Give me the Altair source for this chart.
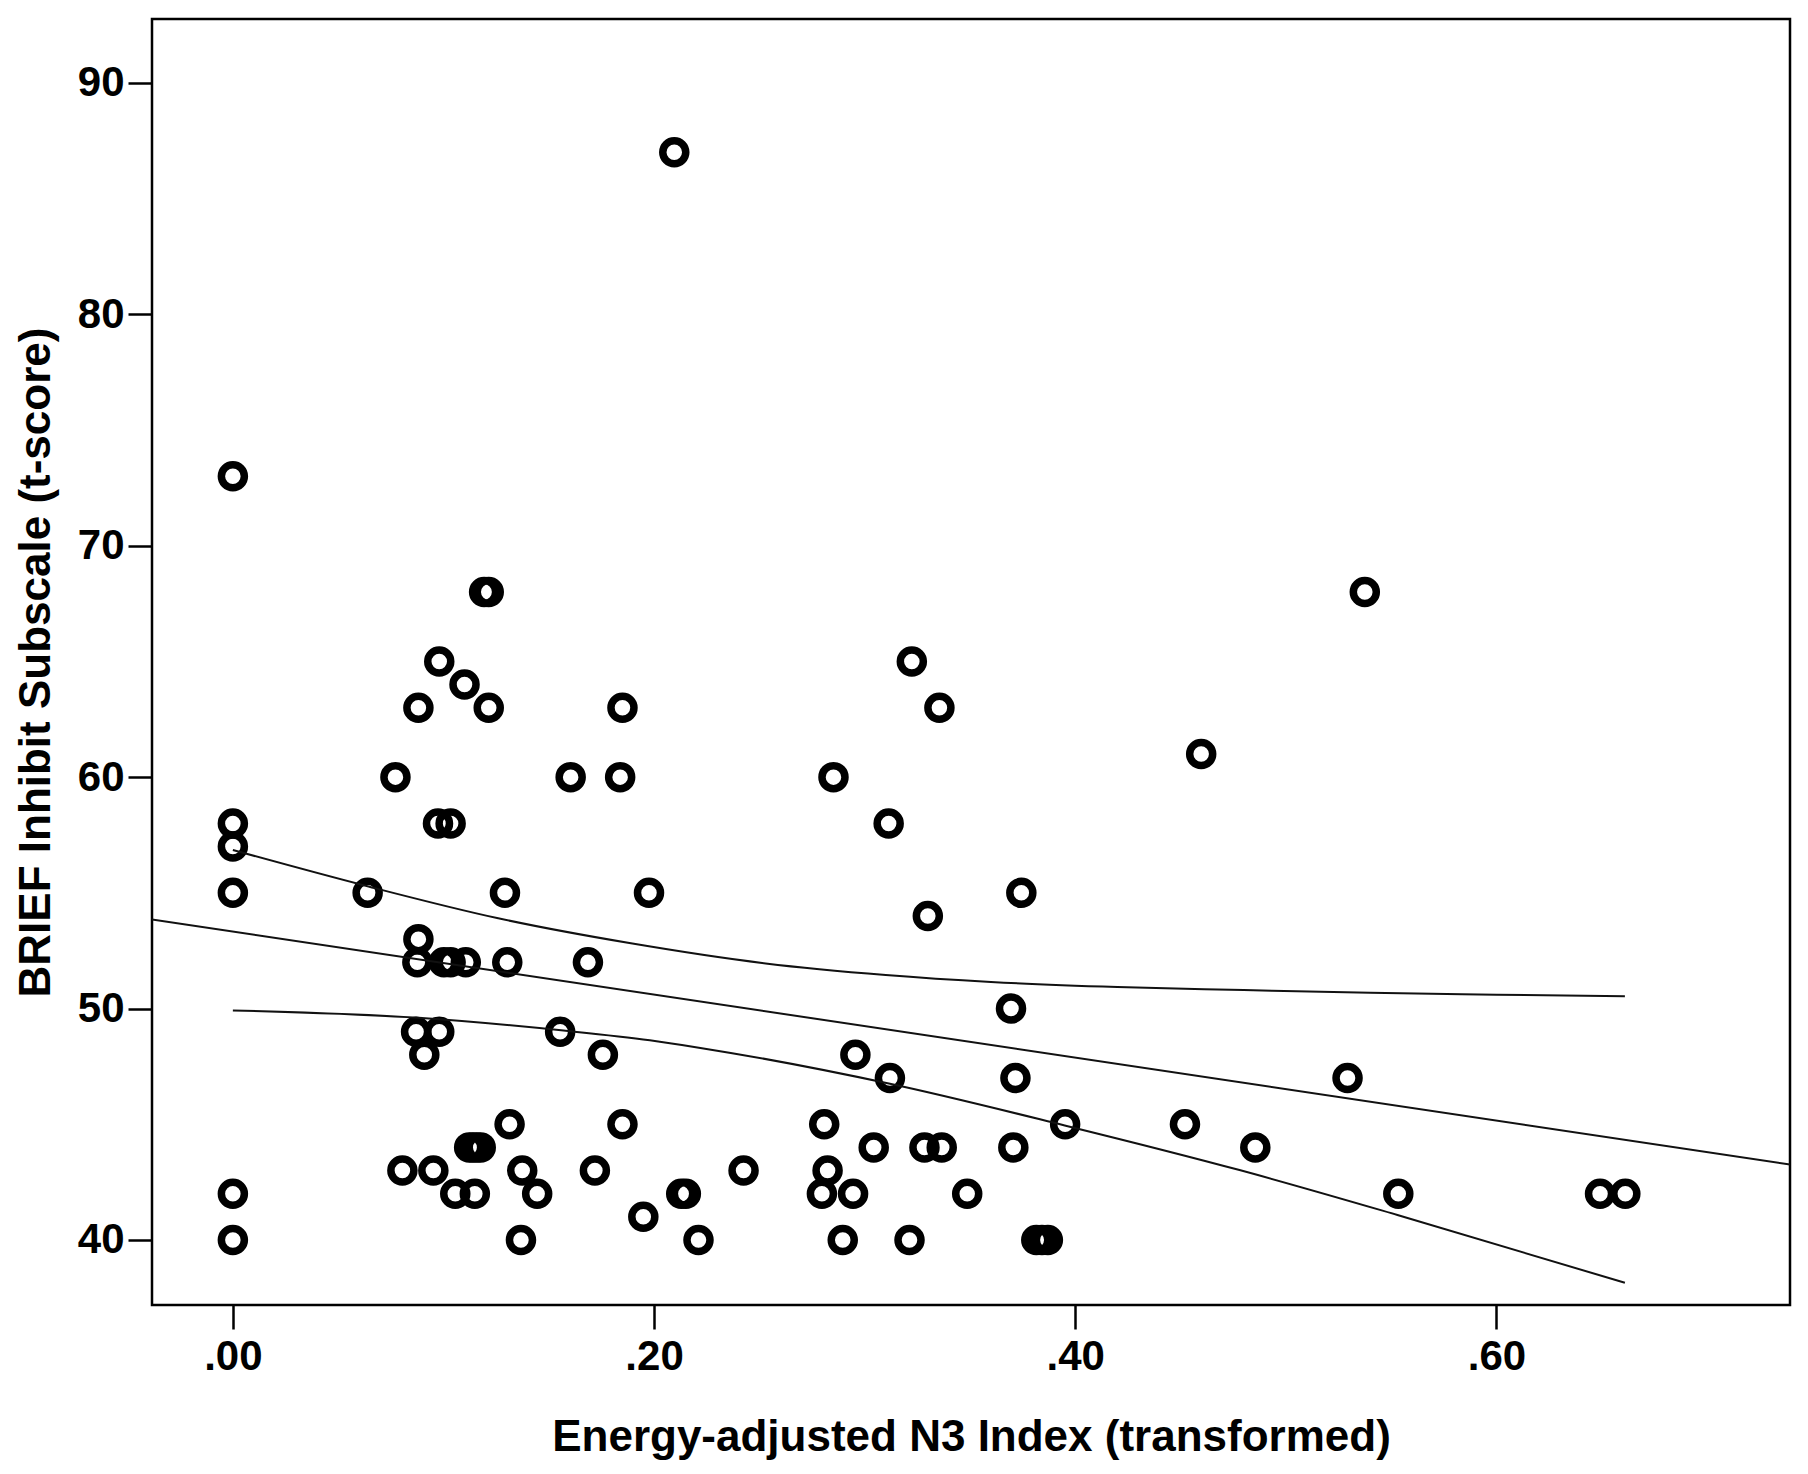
import altair as alt
import pandas as pd

# BRIEF Inhibit t-scores (rows) and the N3 index values of the points on each row
scores = [87, 73, 68, 65, 64, 63, 61, 60, 58, 57, 55, 54, 53, 52, 50, 49, 48, 47, 45, 44, 43, 42, 41, 40]
n3_by_score = [
    [0.2096],
    [0.0],
    [0.1193, 0.1215, 0.5375],
    [0.0980, 0.3224],
    [0.1100],
    [0.0881, 0.1215, 0.1850, 0.3355],
    [0.4598],
    [0.0772, 0.1604, 0.1839, 0.2852],
    [0.0, 0.0974, 0.1034, 0.3114],
    [0.0],
    [0.0, 0.0640, 0.1292, 0.1976, 0.3744],
    [0.3300],
    [0.0881],
    [0.0876, 0.1002, 0.1034, 0.1106, 0.1303, 0.1686],
    [0.3695],
    [0.0870, 0.0980, 0.1554],
    [0.0909, 0.1757, 0.2956],
    [0.3120, 0.3716, 0.5293],
    [0.1314, 0.1850, 0.2808, 0.3952, 0.4521],
    [0.1122, 0.1140, 0.1158, 0.1177, 0.3043, 0.3284, 0.3366, 0.3706, 0.4855],
    [0.0805, 0.0952, 0.1374, 0.1719, 0.2425, 0.2824],
    [0.0, 0.1056, 0.1149, 0.1445, 0.2129, 0.2151, 0.2797, 0.2945, 0.3487, 0.5534, 0.6492, 0.6612],
    [0.1949],
    [0.0, 0.1368, 0.2211, 0.2896, 0.3213, 0.3815, 0.3842, 0.3870],
]

# fit line (read at the frame edges)
fit_x = [-0.0384, 0.7394]
fit_y = [53.85, 43.26]

# 95% CI of the mean
upper_x = [0.0, 0.062, 0.126, 0.189, 0.253, 0.310, 0.360, 0.420, 0.480, 0.540, 0.600, 0.661]
upper_y = [56.85, 55.33, 53.90, 52.82, 51.95, 51.45, 51.15, 50.93, 50.80, 50.68, 50.60, 50.53]
lower_x = [0.0, 0.088, 0.157, 0.198, 0.222, 0.312, 0.395, 0.478, 0.553, 0.661]
lower_y = [49.92, 49.60, 49.05, 48.63, 48.30, 46.75, 44.95, 43.02, 41.08, 38.15]

x_ticks = [0.0, 0.2, 0.4, 0.6]
y_ticks = [40, 50, 60, 70, 80, 90]
x_title = "Energy-adjusted N3 Index (transformed)"
y_title = "BRIEF Inhibit Subscale (t-score)"

rows = []
for s, xs in zip(scores, n3_by_score):
    for v in xs:
        rows.append({"n3": v, "score": s})
pts = pd.DataFrame(rows)
fit_df = pd.DataFrame({"n3": fit_x, "score": fit_y})
up_df = pd.DataFrame({"n3": upper_x, "score": upper_y})
lo_df = pd.DataFrame({"n3": lower_x, "score": lower_y})

FONT = "Liberation Sans"

xscale = alt.Scale(domain=[-0.0384, 0.7394], nice=False, zero=False)
yscale = alt.Scale(domain=[37.19, 92.76], nice=False, zero=False)

xaxis = alt.Axis(
    values=x_ticks, title=x_title, grid=False, domain=False,
    labelExpr="substring(format(datum.value, '.2f'), 1)",
    tickSize=24, tickWidth=2.5, tickColor="black",
    labelFont=FONT, labelFontSize=42, labelFontWeight="bold", labelColor="black",
    labelPadding=7,
    titleFont=FONT, titleFontSize=44, titleFontWeight="bold", titleColor="black",
    titleBaseline="alphabetic", titleY=145, titleX=819, titleAlign="center",
)
yaxis = alt.Axis(
    values=y_ticks, title=y_title, grid=False, domain=False,
    tickSize=24, tickWidth=2.5, tickColor="black",
    labelFont=FONT, labelFontSize=42, labelFontWeight="bold", labelColor="black",
    labelPadding=4,
    titleFont=FONT, titleFontSize=44, titleFontWeight="bold", titleColor="black",
    titleAngle=-90, titleBaseline="alphabetic", titleX=-103, titleY=643, titleAlign="center",
)

points = alt.Chart(pts).mark_point(
    shape="circle", filled=False, size=529, strokeWidth=7.5, color="black", opacity=1
).encode(
    x=alt.X("n3:Q", scale=xscale, axis=xaxis),
    y=alt.Y("score:Q", scale=yscale, axis=yaxis),
)

fit = alt.Chart(fit_df).mark_line(color="#111", strokeWidth=2, clip=True).encode(
    x=alt.X("n3:Q", scale=xscale), y=alt.Y("score:Q", scale=yscale)
)
up = alt.Chart(up_df).mark_line(color="#111", strokeWidth=2, interpolate="monotone").encode(
    x=alt.X("n3:Q", scale=xscale), y=alt.Y("score:Q", scale=yscale)
)
lo = alt.Chart(lo_df).mark_line(color="#111", strokeWidth=2, interpolate="monotone").encode(
    x=alt.X("n3:Q", scale=xscale), y=alt.Y("score:Q", scale=yscale)
)

chart = alt.layer(points, fit, up, lo).properties(
    width=1638, height=1286,
    autosize=alt.AutoSizeParams(type="none"),
    padding={"left": 144, "top": 11, "right": 10, "bottom": 160},
    background="white",
).configure_view(stroke="black", strokeWidth=2.5)

chart.save("out.html", embed_options={"renderer": "svg", "actions": False})
